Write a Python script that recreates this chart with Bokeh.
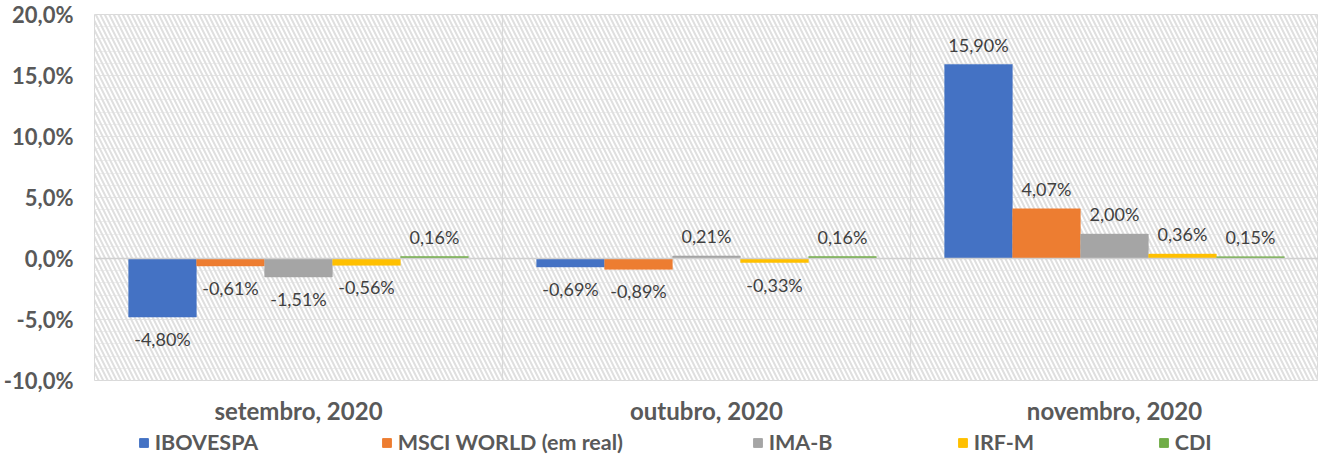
from bokeh.plotting import figure
from bokeh.layouts import column
from bokeh.models import (ColumnDataSource, FactorRange, FixedTicker, Span, BoxAnnotation,
                          Legend, LegendItem)
from bokeh.transform import dodge
from bokeh.core.properties import value
from bokeh.embed import file_html
from bokeh.resources import INLINE

months = ["setembro, 2020", "outubro, 2020", "novembro, 2020"]
series = ["IBOVESPA", "MSCI WORLD (em real)", "IMA-B", "IRF-M", "CDI"]
colors = ["#4472C4", "#ED7D31", "#A5A5A5", "#FFC000", "#70AD47"]
ibovespa = [-4.80, -0.69, 15.90]
msci = [-0.61, -0.89, 4.07]
imab = [-1.51, 0.21, 2.00]
irfm = [-0.56, -0.33, 0.36]
cdi = [0.16, 0.16, 0.15]
values_by_series = [ibovespa, msci, imab, irfm, cdi]
y_ticks = [-10, -5, 0, 5, 10, 15, 20]
y_tick_labels = ["-10,0%", "-5,0%", "0,0%", "5,0%", "10,0%", "15,0%", "20,0%"]
y_minor = list(range(-10, 21))

FONT = "Lato"
GRAY = "#595959"

p = figure(x_range=FactorRange(*months), y_range=(-10, 20),
           frame_width=1224, frame_height=366, output_backend="svg", toolbar_location=None,
           min_border_left=86, min_border_right=0, min_border_top=14, min_border_bottom=34)
p.x_range.range_padding = 0

# hatched plot background
p.add_layout(BoxAnnotation(fill_color=None, line_color=None, hatch_pattern="\\",
                           hatch_color="#dfdfdf", hatch_scale=9, hatch_weight=2.0,
                           level="underlay"))
p.outline_line_color = "#d9d9d9"

bw = 1.0 / 6
offsets = [-2 * bw, -bw, 0, bw, 2 * bw]
for name, vals, col, off in zip(series, values_by_series, colors, offsets):
    labels = [("%.2f%%" % v).replace(".", ",") for v in vals]
    src = ColumnDataSource(dict(
        x=months, top=vals, label=labels,
        base=["bottom" if v >= 0 else "top" for v in vals],
        yoff=[-9 if v >= 0 else 11 for v in vals]))
    p.vbar(x=dodge("x", off, range=p.x_range), top="top", bottom=0, width=bw * 0.995,
           source=src, fill_color=col, line_color=col, line_width=0.5)
    p.text(x=dodge("x", off, range=p.x_range), y="top", text="label", source=src,
           text_align="center", text_baseline="base", y_offset="yoff",
           text_font=value(FONT), text_font_size="18px", text_color="#404040")

# separators and zero line
for loc in [1, 2]:
    p.add_layout(Span(location=loc, dimension="height", line_color="#d9d9d9", line_width=1.2))
p.add_layout(Span(location=0, dimension="width", line_color="#d0d0d0", line_width=1.5))

# grids
p.xgrid.grid_line_color = None
p.ygrid.grid_line_color = "#e6e6e6"
p.ygrid.minor_grid_line_color = "#efefef"

# y axis
p.yaxis.ticker = FixedTicker(ticks=y_ticks, minor_ticks=y_minor)
p.yaxis.major_label_overrides = {t: l for t, l in zip(y_ticks, y_tick_labels)}
p.yaxis.axis_line_color = None
p.yaxis.major_tick_line_color = None
p.yaxis.minor_tick_line_color = None
p.yaxis.major_label_text_font = FONT
p.yaxis.major_label_text_font_style = "bold"
p.yaxis.major_label_text_font_size = "22px"
p.yaxis.major_label_text_color = GRAY
p.yaxis.major_label_standoff = 15

# x axis
p.xaxis.axis_line_color = None
p.xaxis.major_tick_line_color = None
p.xaxis.minor_tick_line_color = None
p.xaxis.major_label_text_font = FONT
p.xaxis.major_label_text_font_style = "bold"
p.xaxis.major_label_text_font_size = "24px"
p.xaxis.major_label_text_color = GRAY
p.xaxis.major_label_standoff = 9

# legend strip
leg = figure(frame_width=1224, frame_height=29, x_range=(0, 1), y_range=(0, 1),
             output_backend="svg", toolbar_location=None,
             min_border_left=86, min_border_right=0, min_border_top=0, min_border_bottom=0)
leg.axis.visible = False
leg.grid.visible = False
leg.outline_line_color = None
legend_x = [109, 352, 723, 928, 1129]
for name, col, lx in zip(series, colors, legend_x):
    r = leg.vbar(x=[5], top=[5], width=1, fill_color=col, line_color=col)
    lg = Legend(items=[LegendItem(label=name, renderers=[r])], location=(lx, 1),
                glyph_width=11, glyph_height=11, label_standoff=6,
                label_text_font=FONT, label_text_font_style="bold",
                label_text_font_size="21.5px", label_text_color=GRAY,
                border_line_color=None, background_fill_alpha=0, padding=0, margin=0)
    leg.add_layout(lg)

layout = column(p, leg, spacing=0)
open("out.html", "w").write(file_html(layout, INLINE))
